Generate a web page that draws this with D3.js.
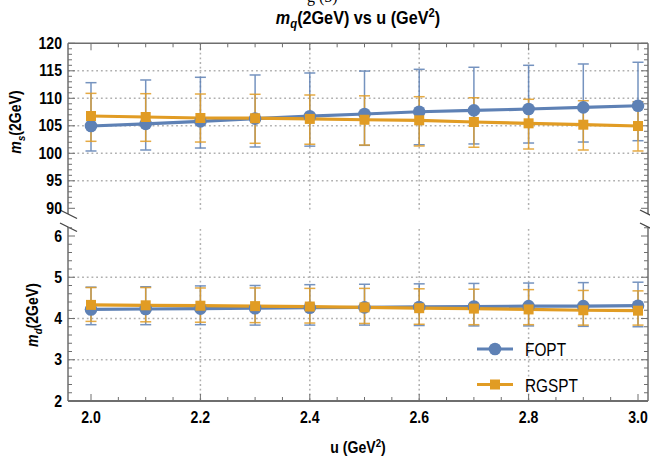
<!DOCTYPE html>
<html><head><meta charset="utf-8">
<script src="https://cdn.jsdelivr.net/npm/d3@7/dist/d3.min.js"></script>
<style>body{margin:0;background:#fff} svg{display:block}</style>
</head><body><svg id="c" width="650" height="459"></svg>
<script>
// ---------- data ----------
const uVals = [2.0, 2.1, 2.2, 2.3, 2.4, 2.5, 2.6, 2.7, 2.8, 2.9, 3.0];

const msFOPT    = [104.96, 105.35, 105.8, 106.3, 106.75, 107.15, 107.55, 107.8, 108.05, 108.35, 108.65];
const msFOPTHi  = [112.84, 113.33, 113.82, 114.24, 114.6, 114.95, 115.27, 115.64, 116.0, 116.24, 116.55];
const msFOPTLo  = [100.42, 100.6, 100.96, 101.15, 101.3, 101.45, 101.56, 101.7, 101.87, 102.05, 102.29];
const msRGSPT   = [106.78, 106.6, 106.42, 106.38, 106.25, 106.1, 106.0, 105.69, 105.45, 105.2, 104.96];
const msRGSPTHi = [110.9, 110.84, 110.78, 110.73, 110.6, 110.45, 110.29, 110.1, 109.82, 109.56, 109.38];
const msRGSPTLo = [102.18, 102.18, 102.05, 101.82, 101.65, 101.5, 101.33, 101.1, 100.78, 100.6, 100.42];

const mdFOPT    = [4.22, 4.23, 4.24, 4.25, 4.26, 4.27, 4.28, 4.29, 4.30, 4.30, 4.31];
const mdFOPTHi  = [4.76, 4.77, 4.79, 4.80, 4.82, 4.83, 4.84, 4.85, 4.86, 4.87, 4.88];
const mdFOPTLo  = [3.85, 3.85, 3.85, 3.84, 3.84, 3.84, 3.83, 3.82, 3.82, 3.81, 3.80];
const mdRGSPT   = [4.33, 4.32, 4.31, 4.30, 4.29, 4.27, 4.25, 4.24, 4.22, 4.20, 4.19];
const mdRGSPTHi = [4.75, 4.75, 4.74, 4.74, 4.73, 4.73, 4.72, 4.71, 4.70, 4.68, 4.67];
const mdRGSPTLo = [3.93, 3.92, 3.91, 3.90, 3.89, 3.88, 3.86, 3.85, 3.85, 3.84, 3.84];

const xTickVals = [2.0, 2.2, 2.4, 2.6, 2.8, 3.0];
const msTickVals = [90, 95, 100, 105, 110, 115, 120];
const mdTickVals = [2, 3, 4, 5, 6];
const seriesNames = ["FOPT", "RGSPT"];

// ---------- layout ----------
const svg = d3.select("#c");
const L = 68, R = 648, T = 43.3, B = 401;
const upBot = 214, loTop = 227;
const x = d3.scaleLinear().domain([2, 3]).range([91, 638]);
const yU = d3.scaleLinear().domain([90, 120]).range([208.3, 43.3]);
const yL = d3.scaleLinear().domain([2, 6]).range([401, 236]);
const BLUE = "#5E81B5", ORANGE = "#E19C24";
const FONT = "'Liberation Sans', Arial, sans-serif";
const frameColor = "#6e6e6e";

function txt(parent, xx, yy, size, anchor, weight, rot, sx) {
  const s = sx || 0.88;
  return parent.append("text")
    .attr("transform", `translate(${xx},${yy})` + (rot ? ` rotate(${rot})` : "") + ` scale(${s},1)`)
    .attr("font-family", FONT).attr("font-size", size)
    .attr("font-weight", weight || "bold").attr("text-anchor", anchor || "start")
    .attr("fill", "#000");
}

// top cut-off caption remnant
svg.append("text").attr("x", 307).attr("y", 1.5).attr("font-family", "'Liberation Serif', serif")
  .attr("font-size", 16).attr("fill", "#000").text("g (5)");

// ---------- grid ----------
const grid = svg.append("g").attr("stroke", "#b0b0b0").attr("stroke-width", 1.5)
  .attr("stroke-dasharray", "1.8,2.9");
[95, 100, 105, 110, 115].forEach(v => grid.append("line").attr("x1", L).attr("x2", R).attr("y1", yU(v)).attr("y2", yU(v)));
[3, 4, 5].forEach(v => grid.append("line").attr("x1", L).attr("x2", R).attr("y1", yL(v)).attr("y2", yL(v)));
[2.2, 2.4, 2.6, 2.8].forEach(v => {
  grid.append("line").attr("x1", x(v)).attr("x2", x(v)).attr("y1", T).attr("y2", upBot - 2);
  grid.append("line").attr("x1", x(v)).attr("x2", x(v)).attr("y1", loTop + 2).attr("y2", B);
});

// ---------- frame & ticks ----------
const fr = svg.append("g").attr("stroke", frameColor).attr("fill", "none");
fr.append("line").attr("x1", L).attr("x2", R).attr("y1", T).attr("y2", T).attr("stroke-width", 1.5);
fr.append("line").attr("x1", L).attr("x2", R).attr("y1", B).attr("y2", B).attr("stroke-width", 2);
[L, R].forEach(xx => {
  fr.append("line").attr("x1", xx).attr("x2", xx).attr("y1", T).attr("y2", upBot).attr("stroke-width", 1.5);
  fr.append("line").attr("x1", xx).attr("x2", xx).attr("y1", loTop).attr("y2", B).attr("stroke-width", 1.5);
});
// break marks
[L, R].forEach(xx => {
  fr.append("line").attr("x1", xx - 8).attr("x2", xx + 9).attr("y1", 210).attr("y2", 218.5).attr("stroke-width", 1.3).attr("stroke", "#444");
  fr.append("line").attr("x1", xx - 8).attr("x2", xx + 9).attr("y1", 223).attr("y2", 231.5).attr("stroke-width", 1.3).attr("stroke", "#444");
});
const tk = svg.append("g").attr("stroke", frameColor).attr("stroke-width", 1);
d3.range(90, 120.01, 1).forEach(v => {
  const len = v % 5 === 0 ? 7 : 4;
  tk.append("line").attr("x1", L).attr("x2", L + len).attr("y1", yU(v)).attr("y2", yU(v));
  tk.append("line").attr("x1", R).attr("x2", R - len).attr("y1", yU(v)).attr("y2", yU(v));
});
d3.range(2, 6.21, 0.2).forEach(v => {
  const major = Math.abs(v - Math.round(v)) < 1e-6;
  const len = major ? 7 : 4;
  tk.append("line").attr("x1", L).attr("x2", L + len).attr("y1", yL(v)).attr("y2", yL(v));
  tk.append("line").attr("x1", R).attr("x2", R - len).attr("y1", yL(v)).attr("y2", yL(v));
});
d3.range(2, 3.001, 0.05).forEach(v => {
  const major = Math.abs(v * 5 - Math.round(v * 5)) < 1e-6;
  const len = major ? 7 : 4;
  tk.append("line").attr("x1", x(v)).attr("x2", x(v)).attr("y1", B).attr("y2", B - len);
  tk.append("line").attr("x1", x(v)).attr("x2", x(v)).attr("y1", T).attr("y2", T + len);
});

// tick labels
const lab = svg.append("g");
msTickVals.forEach(v => txt(lab, 62, yU(v) + 5.5, 16, "end").text(v));
mdTickVals.forEach(v => txt(lab, 62, yL(v) + 5.5, 16, "end").text(v));
xTickVals.forEach(v => txt(lab, x(v), 423, 16, "middle").text(v.toFixed(1)));

// axis titles
function massLabel(xx, yy, sub) {
  const t = txt(lab, xx, yy, 16, "middle", "bold", -90);
  t.append("tspan").attr("font-style", "italic").text("m");
  t.append("tspan").attr("font-style", "italic").attr("font-size", 11).attr("dy", 4).text(sub);
  t.append("tspan").attr("dy", -4).text("(2GeV)");
}
massLabel(21, 122, "s");
massLabel(37.5, 315, "d");

const xt = txt(lab, 358, 453, 16, "middle");
xt.append("tspan").text("u (GeV");
xt.append("tspan").attr("font-size", 11).attr("dy", -6).text("2");
xt.append("tspan").attr("dy", 6).text(")");

const tt = txt(lab, 358, 24, 18, "middle", "bold", 0, 0.9);
tt.append("tspan").attr("font-style", "italic").text("m");
tt.append("tspan").attr("font-style", "italic").attr("font-size", 12.5).attr("dy", 4).text("q");
tt.append("tspan").attr("dy", -4).text("(2GeV) vs u (GeV");
tt.append("tspan").attr("font-size", 12.5).attr("dy", -7).text("2");
tt.append("tspan").attr("dy", 7).text(")");

// ---------- data marks ----------
const panels = [
  { y: yU, series: [[msFOPT, msFOPTHi, msFOPTLo], [msRGSPT, msRGSPTHi, msRGSPTLo]] },
  { y: yL, series: [[mdFOPT, mdFOPTHi, mdFOPTLo], [mdRGSPT, mdRGSPTHi, mdRGSPTLo]] }
];
const colors = [BLUE, ORANGE];
const eg = svg.append("g"), lg = svg.append("g"), pg = svg.append("g");
panels.forEach(p => {
  p.series.forEach((s, si) => {
    const [mid, hi, lo] = s;
    const c = colors[si];
    uVals.forEach((u, i) => {
      const g = eg.append("g").attr("stroke", c).attr("stroke-width", 1.5).attr("opacity", 0.85);
      g.append("line").attr("x1", x(u)).attr("x2", x(u)).attr("y1", p.y(hi[i])).attr("y2", p.y(lo[i]));
      g.append("line").attr("x1", x(u) - 5.5).attr("x2", x(u) + 5.5).attr("y1", p.y(hi[i])).attr("y2", p.y(hi[i]));
      g.append("line").attr("x1", x(u) - 5.5).attr("x2", x(u) + 5.5).attr("y1", p.y(lo[i])).attr("y2", p.y(lo[i]));
    });
    const line = d3.line().x((d, i) => x(uVals[i])).y(d => p.y(d));
    lg.append("path").attr("d", line(mid)).attr("fill", "none").attr("stroke", c).attr("stroke-width", 3.2);
    uVals.forEach((u, i) => {
      if (si === 0) pg.append("circle").attr("cx", x(u)).attr("cy", p.y(mid[i])).attr("r", 6.3).attr("fill", c);
      else pg.append("rect").attr("x", x(u) - 5).attr("y", p.y(mid[i]) - 5).attr("width", 10).attr("height", 10).attr("fill", c);
    });
  });
});

// ---------- legend ----------
const leg = svg.append("g");
[[349, 356], [384.5, 391.5]].forEach(([ly, ty], i) => {
  leg.append("line").attr("x1", 477).attr("x2", 513).attr("y1", ly).attr("y2", ly).attr("stroke", colors[i]).attr("stroke-width", 3.2);
  if (i === 0) leg.append("circle").attr("cx", 495).attr("cy", ly).attr("r", 6.3).attr("fill", colors[i]);
  else leg.append("rect").attr("x", 490).attr("y", ly - 5).attr("width", 10).attr("height", 10).attr("fill", colors[i]);
  txt(leg, 525, ty, 17.5, "start", "normal").text(seriesNames[i]);
});
</script></body></html>
